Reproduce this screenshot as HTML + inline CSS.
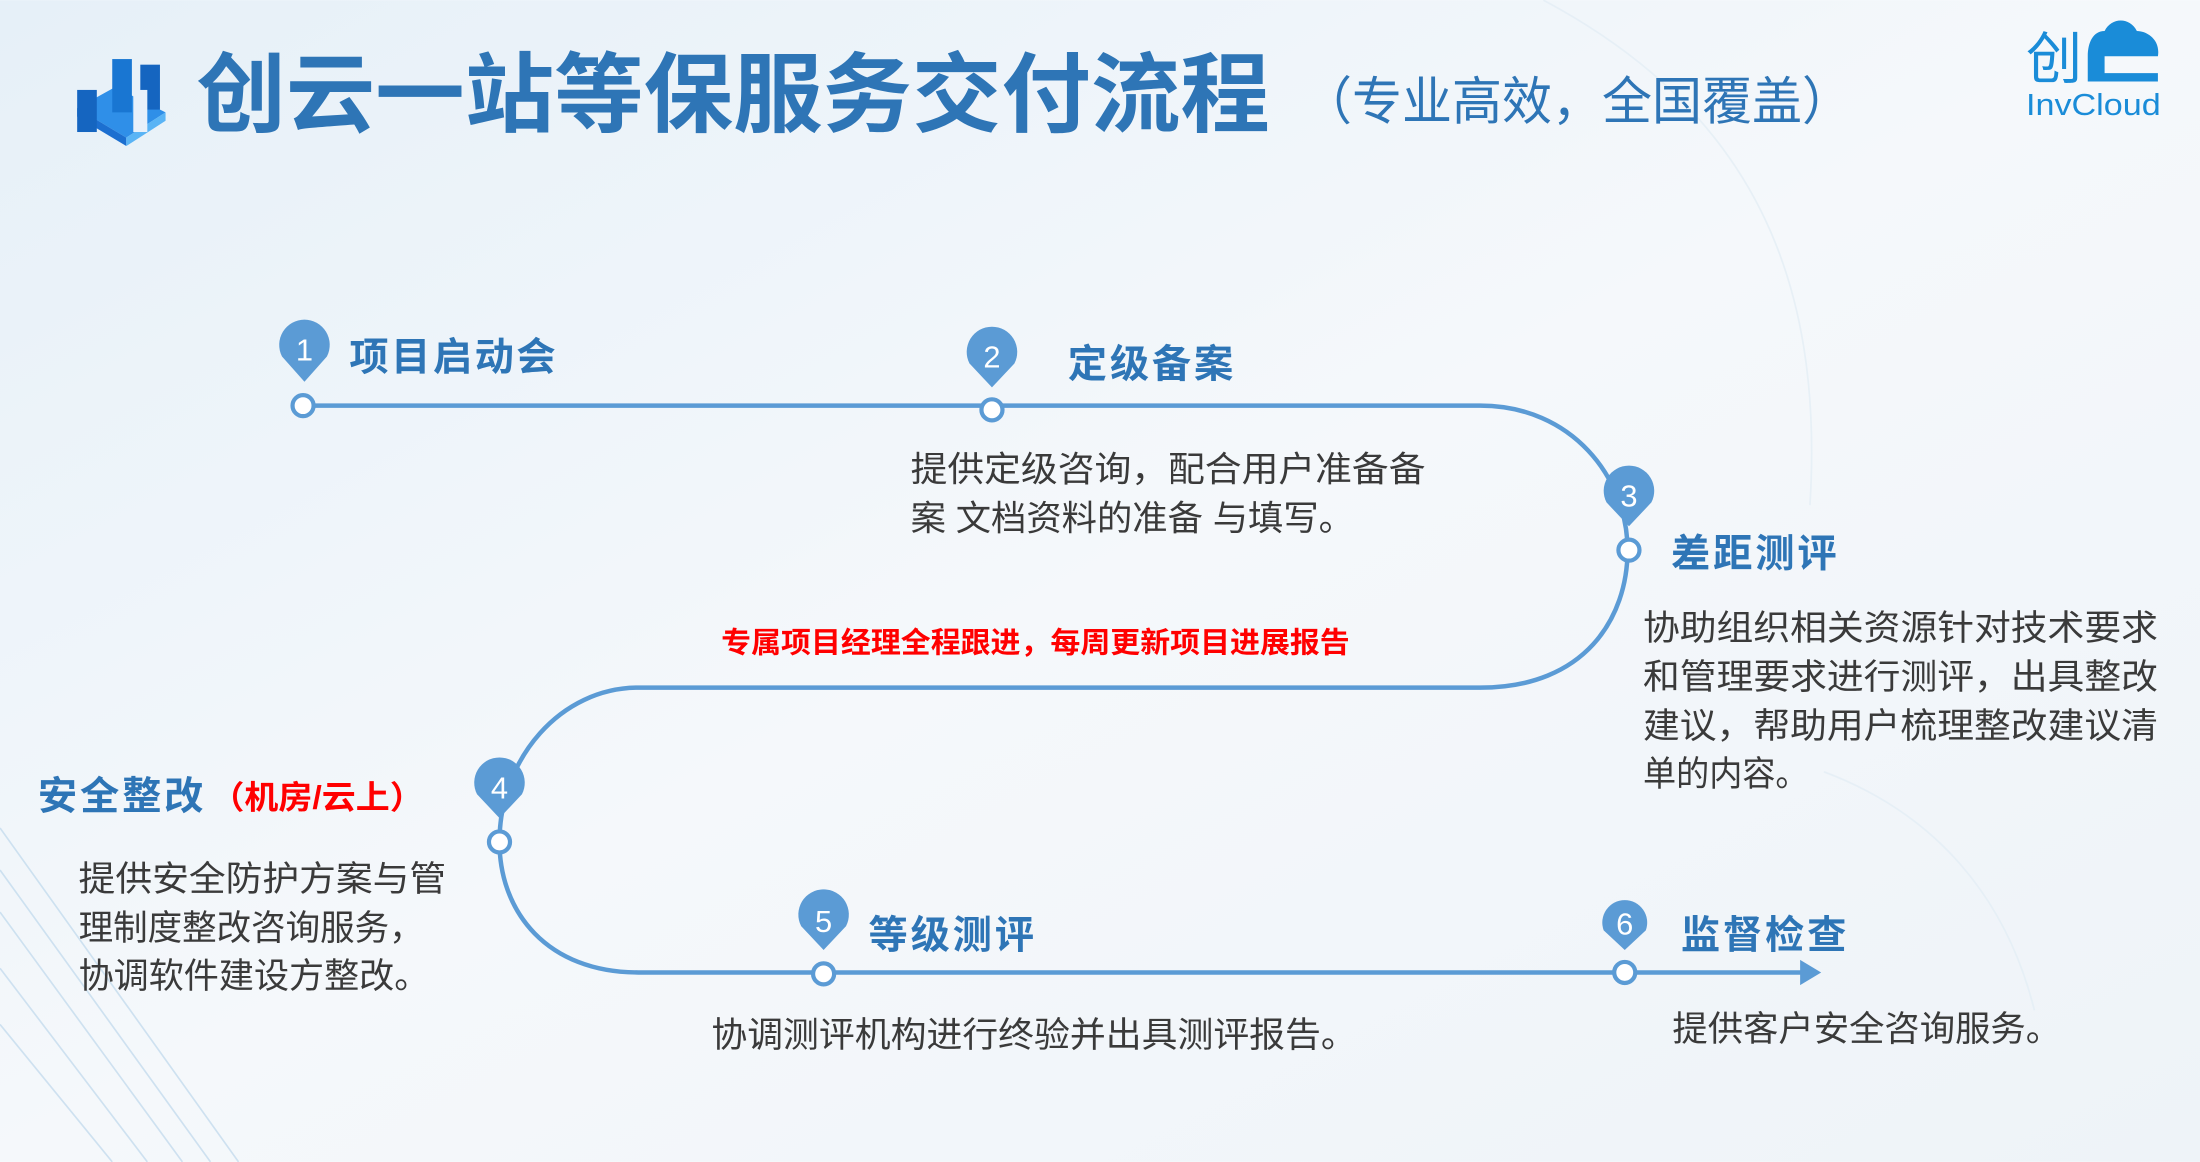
<!DOCTYPE html>
<html><head><meta charset="utf-8"><style>
html,body{margin:0;padding:0;}
body{width:2200px;height:1162px;overflow:hidden;}
svg{display:block;}
text{font-family:"Liberation Sans","Noto Sans CJK SC",sans-serif;}
</style></head><body>
<svg width="2200" height="1162" viewBox="0 0 1568 828" xmlns="http://www.w3.org/2000/svg">
<defs>
<linearGradient id="bg" x1="0" y1="0" x2="1" y2="1">
<stop offset="0" stop-color="#e6f0f8"/><stop offset="0.5" stop-color="#f5f8fb"/><stop offset="1" stop-color="#eef3f8"/>
</linearGradient>
</defs>
<rect width="1568" height="828" fill="url(#bg)"/>
<g fill="none" stroke="#c5dcee" stroke-width="1.2" opacity="0.8">
<path d="M0,590 L170,828"/><path d="M0,620 L150,828"/><path d="M0,650 L130,828"/><path d="M0,690 L105,828"/><path d="M0,730 L80,828"/>
<path d="M1100,0 C1250,80 1300,200 1290,360" stroke="#e3edf5"/>
<path d="M1300,550 C1380,580 1430,640 1450,720" stroke="#e3edf5"/>
</g>
<g>
<polygon points="55,77 82,62 118,80 90,98" fill="#2f8fe8"/>
<polygon points="55,77 90,98 90,104 55,83" fill="#1c6fd0"/>
<polygon points="90,98 118,80 118,86 90,104" fill="#5ab4f5"/>
<rect x="55" y="64" width="14" height="30" fill="#1565c0"/>
<rect x="80" y="42" width="14" height="38" fill="#1976d2"/>
<rect x="100" y="46" width="14" height="32" fill="#1565c0"/>
<rect x="95" y="64" width="10" height="30" fill="#e8f0fa"/>
</g>
<text x="140" y="89" font-size="62" font-weight="bold" fill="#2e75b6" textLength="765" lengthAdjust="spacingAndGlyphs">创云一站等保服务交付流程</text>
<text x="928" y="85" font-size="37" fill="#2e75b6" textLength="392" lengthAdjust="spacingAndGlyphs">（专业高效，全国覆盖）</text>
<g>
<text x="1444" y="56" font-size="40" fill="#1a8cd8">创</text>
<path d="M1488,58 H1538 V52 H1500 V40 H1538 C1540,28 1530,22 1523,22 C1518,12 1505,12 1500,22 C1492,22 1488,30 1488,40 Z" fill="#1a8cd8"/>
<text x="1444" y="82" font-size="22" fill="#1a8cd8" textLength="96" lengthAdjust="spacingAndGlyphs">InvCloud</text>
</g>
<path d="M216,289 H1055 C1120,289 1160,340 1160,392 C1160,440 1130,490 1055,490 H455 C400,490 356,540 356,600 C356,650 390,693 455,693 H1286" fill="none" stroke="#5b9bd5" stroke-width="3.2"/>
<polygon points="1283,684 1298,693 1283,702" fill="#5b9bd5"/>
<g fill="#5b9bd5">
<path d="M217,272 L201,254 A18,18 0 1 1 233,254 Z"/>
<path d="M707,276 L691,259 A18,18 0 1 1 723,259 Z"/>
<path d="M1161,375 L1145,358 A18,18 0 1 1 1177,358 Z"/>
<path d="M356,583 L340,566 A18,18 0 1 1 372,566 Z"/>
<path d="M587,677 L571,660 A18,18 0 1 1 603,660 Z"/>
<path d="M1158,677 L1143,663 A16,16 0 1 1 1173,663 Z"/>
</g>
<g fill="#fff" font-size="22" text-anchor="middle">
<text x="217" y="257">1</text><text x="707" y="262">2</text><text x="1161" y="361">3</text>
<text x="356" y="569">4</text><text x="587" y="664">5</text><text x="1158" y="666">6</text>
</g>
<g fill="#fff" stroke="#5b9bd5" stroke-width="3">
<circle cx="216" cy="289" r="7.5"/><circle cx="707" cy="292" r="7.5"/><circle cx="1161" cy="392" r="7.5"/>
<circle cx="356" cy="600" r="7.5"/><circle cx="587" cy="694" r="7.5"/><circle cx="1158" cy="693" r="7.5"/>
</g>
<g font-size="28" font-weight="bold" fill="#2e75b6" lengthAdjust="spacingAndGlyphs">
<text x="249" y="264" textLength="147">项目启动会</text>
<text x="761" y="269" textLength="118">定级备案</text>
<text x="1191" y="404" textLength="118">差距测评</text>
<text x="27" y="577" textLength="118">安全整改</text>
<text x="619" y="676" textLength="118">等级测评</text>
<text x="1198" y="676" textLength="118">监督检查</text>
</g>
<text x="150" y="576" font-size="23" font-weight="bold" fill="#ff0000" textLength="152" lengthAdjust="spacingAndGlyphs">（机房/云上）</text>
<text x="514" y="465" font-size="20.5" font-weight="bold" fill="#ff0000" textLength="448" lengthAdjust="spacingAndGlyphs">专属项目经理全程跟进，每周更新项目进展报告</text>
<g font-size="25" fill="#3a3a3a">
<text x="649" y="343" textLength="367" lengthAdjust="spacingAndGlyphs">提供定级咨询，配合用户准备备</text>
<text x="649" y="378" textLength="316" lengthAdjust="spacingAndGlyphs">案 文档资料的准备 与填写。</text>
<text x="1171" y="456" textLength="367" lengthAdjust="spacingAndGlyphs">协助组织相关资源针对技术要求</text>
<text x="1171" y="491" textLength="367" lengthAdjust="spacingAndGlyphs">和管理要求进行测评，出具整改</text>
<text x="1171" y="526" textLength="367" lengthAdjust="spacingAndGlyphs">建议，帮助用户梳理整改建议清</text>
<text x="1171" y="560" textLength="118" lengthAdjust="spacingAndGlyphs">单的内容。</text>
<text x="56" y="635" textLength="262" lengthAdjust="spacingAndGlyphs">提供安全防护方案与管</text>
<text x="56" y="670" textLength="246" lengthAdjust="spacingAndGlyphs">理制度整改咨询服务，</text>
<text x="56" y="704" textLength="250" lengthAdjust="spacingAndGlyphs">协调软件建设方整改。</text>
<text x="507" y="746" textLength="460" lengthAdjust="spacingAndGlyphs">协调测评机构进行终验并出具测评报告。</text>
<text x="1192" y="742" textLength="277" lengthAdjust="spacingAndGlyphs">提供客户安全咨询服务。</text>
</g>
</svg>
</body></html>
